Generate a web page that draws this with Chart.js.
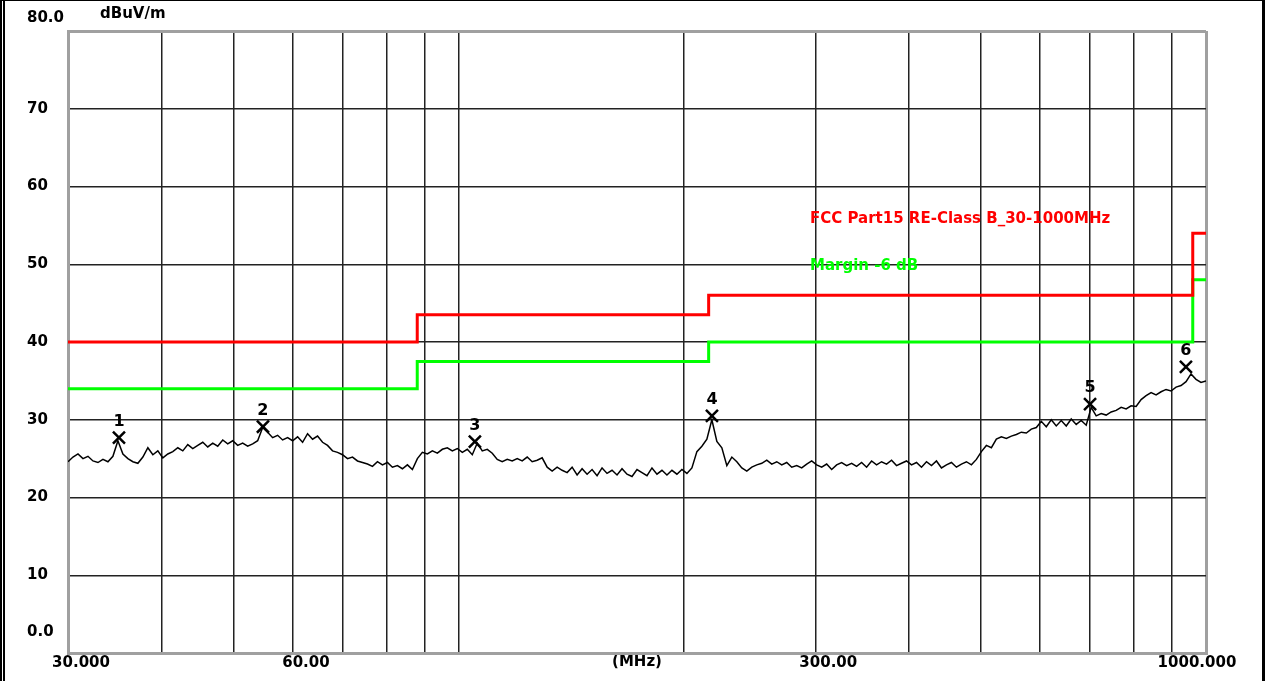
<!DOCTYPE html>
<html>
<head>
<meta charset="utf-8">
<title>Radiated emission 30-1000 MHz</title>
<script src="https://cdn.jsdelivr.net/npm/chart.js@4.4.1/dist/chart.umd.min.js"></script>
<style>
  html, body { margin: 0; padding: 0; background: #fff; overflow: hidden; }
  #wrap { position: relative; width: 1265px; height: 681px; }
  #emiChart { position: absolute; left: 0; top: 0; }
  #frame {
    position: absolute; left: 0; top: 0; width: 1265px; height: 681px; box-sizing: border-box;
    border-top: 1px solid #000; border-left: 5px double #000; border-right: 3px solid #000;
    pointer-events: none;
  }
</style>
</head>
<body>
<div id="wrap">
  <canvas id="emiChart" width="1265" height="681"></canvas>
  <div id="frame"></div>
</div>
<script>
// sweep 30..1000 MHz, level in dBuV/m
const sweepStart = 30;
const sweepStop = 1000;
const traceLevels = [
  24.6, 25.2, 25.6, 25.0, 25.3, 24.7, 24.5, 24.9, 24.6, 25.3,
  27.3, 25.6, 25.0, 24.6, 24.4, 25.2, 26.4, 25.5, 26.0, 25.1,
  25.6, 25.9, 26.4, 26.0, 26.8, 26.3, 26.7, 27.1, 26.5, 27.0,
  26.6, 27.4, 26.9, 27.3, 26.7, 27.0, 26.6, 26.9, 27.3, 29.0,
  28.4, 27.7, 28.0, 27.4, 27.7, 27.3, 27.8, 27.1, 28.2, 27.5,
  27.9, 27.1, 26.7, 26.0, 25.8, 25.5, 25.0, 25.2, 24.7, 24.5,
  24.3, 24.0, 24.6, 24.2, 24.5, 23.9, 24.1, 23.7, 24.2, 23.6,
  25.0, 25.8, 25.6, 26.0, 25.7, 26.2, 26.4, 26.0, 26.3, 25.8,
  26.2, 25.5, 27.0, 26.0, 26.2, 25.7, 24.9, 24.6, 24.9, 24.7,
  25.0, 24.7, 25.2, 24.6, 24.8, 25.1, 23.9, 23.4, 23.9, 23.5,
  23.2, 23.9, 22.9, 23.7, 23.0, 23.6, 22.8, 23.8, 23.1, 23.5,
  22.9, 23.7, 23.0, 22.7, 23.6, 23.2, 22.8, 23.8, 23.0, 23.5,
  22.9, 23.5, 23.0, 23.6, 23.1, 23.8, 25.9, 26.6, 27.5, 30.0,
  27.2, 26.4, 24.1, 25.2, 24.6, 23.8, 23.4, 23.9, 24.2, 24.4,
  24.8, 24.3, 24.6, 24.2, 24.5, 23.9, 24.1, 23.8, 24.3, 24.7,
  24.2, 23.9, 24.3, 23.6, 24.2, 24.5, 24.1, 24.4, 24.0, 24.5,
  23.9, 24.7, 24.2, 24.6, 24.3, 24.8, 24.1, 24.4, 24.7, 24.2,
  24.5, 23.9, 24.6, 24.1, 24.7, 23.8, 24.2, 24.5, 23.9, 24.3,
  24.6, 24.2, 24.9, 25.9, 26.7, 26.4, 27.5, 27.8, 27.6, 27.9,
  28.1, 28.4, 28.3, 28.8, 29.0, 29.8, 29.1, 30.0, 29.2, 29.9,
  29.2, 30.1, 29.4, 29.9, 29.3, 31.6, 30.5, 30.8, 30.6, 31.0,
  31.2, 31.6, 31.4, 31.8, 31.7, 32.6, 33.1, 33.5, 33.2, 33.6,
  33.9, 33.7, 34.2, 34.4, 34.9, 35.9, 35.2, 34.8, 35.0
];

const limitName = 'FCC Part15 RE-Class B_30-1000MHz';
const limitFreq = [30, 88, 216, 960, 1000];
const limitLevel = [40, 43.5, 46, 54, 54];
const marginName = 'Margin -6 dB';
const marginLevel = [34, 37.5, 40, 48, 48];

const markerNames = ['1', '2', '3', '4', '5', '6'];
const markerFreq = [35.1, 54.7, 105.1, 218.2, 699.6, 940.0];
const markerLevel = [27.7, 29.1, 27.2, 30.5, 32.0, 36.8];

const xGridFreq = [30, 40, 50, 60, 70, 80, 90, 100, 200, 300, 400, 500, 600, 700, 800, 900, 1000];
const xTickText = { 30: '30.000', 60: '60.00', 300: '300.00', 1000: '1000.000' };
const yTickText = { 0: '0.0', 80: '80.0' };
const unitText = 'dBuV/m';
const freqUnitText = '(MHz)';

const FONT = '"DejaVu Sans"';
Chart.defaults.font.family = FONT;
Chart.defaults.color = '#000';

// sweep points are log spaced across the span
const traceFreq = traceLevels.map((_, i) =>
  sweepStart * Math.pow(sweepStop / sweepStart, i / (traceLevels.length - 1)));

const toXY = (xs, ys) => xs.map((x, i) => ({ x: x, y: ys[i] }));

const isEdge = (v, lo, hi) => v === lo || v === hi;

// texts that sit inside / around the plot
const plotText = {
  id: 'plotText',
  afterDatasetsDraw(chart) {
    const { ctx, chartArea, scales } = chart;
    ctx.save();
    ctx.textBaseline = 'middle';
    ctx.font = 'bold 15px ' + FONT;

    ctx.fillStyle = '#000';
    ctx.textAlign = 'left';
    ctx.fillText(unitText, chartArea.left + 32, 14);

    // x labels only at a few grid lines
    ctx.textAlign = 'center';
    Object.keys(xTickText).forEach(k => {
      const v = +k;
      const shift = v === sweepStop ? -9 : 13;
      ctx.fillText(xTickText[k], scales.x.getPixelForValue(v) + shift, chartArea.bottom + 10);
    });

    ctx.textAlign = 'left';
    ctx.fillStyle = '#ff0000';
    ctx.fillText(limitName, chartArea.left + 742, 219);
    ctx.fillStyle = '#00ff00';
    ctx.fillText(marginName, chartArea.left + 742, 266);

    ctx.fillStyle = '#000';
    ctx.textAlign = 'center';
    ctx.font = 'bold 16px ' + FONT;
    chart.getDatasetMeta(3).data.forEach((pt, i) => {
      ctx.fillText(markerNames[i], pt.x, pt.y - 16);
    });
    ctx.restore();
  }
};

const ctx = document.getElementById('emiChart').getContext('2d');
new Chart(ctx, {
  type: 'line',
  data: {
    datasets: [
      {
        label: 'Trace',
        data: toXY(traceFreq, traceLevels),
        borderColor: '#000',
        borderWidth: 1.5,
        pointRadius: 0,
        tension: 0
      },
      {
        label: limitName,
        data: toXY(limitFreq, limitLevel),
        borderColor: '#ff0000',
        borderWidth: 3,
        stepped: 'before',
        pointRadius: 0
      },
      {
        label: marginName,
        data: toXY(limitFreq, marginLevel),
        borderColor: '#00ff00',
        borderWidth: 3,
        stepped: 'before',
        pointRadius: 0
      },
      {
        type: 'scatter',
        label: 'Markers',
        data: toXY(markerFreq, markerLevel),
        showLine: false,
        pointStyle: 'crossRot',
        pointRadius: 8.5,
        borderColor: '#000',
        borderWidth: 2.5,
        backgroundColor: '#000'
      }
    ]
  },
  options: {
    responsive: false,
    animation: false,
    events: [],
    layout: { padding: { left: 27, top: 31, right: 59, bottom: 0 } },
    plugins: { legend: { display: false }, tooltip: { enabled: false } },
    scales: {
      x: {
        type: 'logarithmic',
        min: sweepStart,
        max: sweepStop,
        afterBuildTicks: s => { s.ticks = xGridFreq.map(v => ({ value: v })); },
        afterFit: s => { s.height = 28; s.paddingLeft = 0; s.paddingRight = 0; },
        ticks: { display: false, autoSkip: false },
        grid: {
          drawTicks: false,
          color: c => (c.tick && isEdge(c.tick.value, sweepStart, sweepStop)) ? '#a0a0a0' : '#222',
          lineWidth: c => (c.tick && isEdge(c.tick.value, sweepStart, sweepStop)) ? 3 : 1.5
        },
        border: { display: true, color: '#a0a0a0', width: 3 },
        title: {
          display: true,
          text: freqUnitText,
          font: { size: 15, weight: 'bold' },
          padding: { top: 0, bottom: 10 }
        }
      },
      y: {
        min: 0,
        max: 80,
        afterFit: s => { s.width = 41; s.paddingTop = 0; s.paddingBottom = 0; },
        ticks: {
          stepSize: 10,
          autoSkip: false,
          crossAlign: 'far',
          padding: 0,
          color: '#000',
          // 0.0 and 80.0 sit above their grid line
          callback: v => yTickText[v] !== undefined ? [yTickText[v], ''] : String(v),
          font: c => ({
            family: FONT,
            size: 15,
            weight: 'bold',
            lineHeight: c.tick && c.tick.value === 80 ? '26px' : (c.tick && c.tick.value === 0 ? '42px' : 1.2)
          })
        },
        grid: {
          drawTicks: false,
          color: c => (c.tick && isEdge(c.tick.value, 0, 80)) ? '#a0a0a0' : '#222',
          lineWidth: c => (c.tick && isEdge(c.tick.value, 0, 80)) ? 3 : 1.5
        },
        border: { display: true, color: '#a0a0a0', width: 3 }
      }
    }
  },
  plugins: [plotText]
});
</script>
</body>
</html>
